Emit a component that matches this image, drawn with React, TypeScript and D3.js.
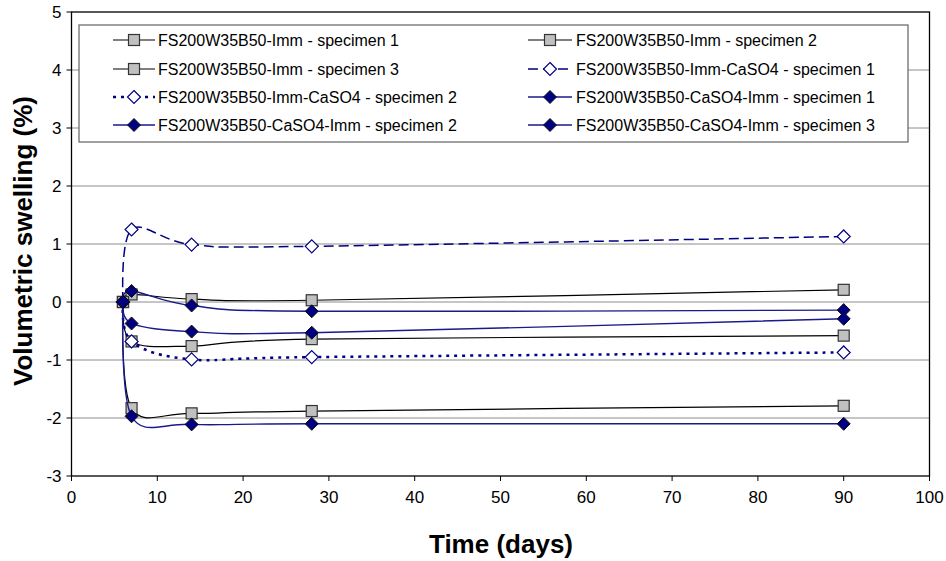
import React from "react";
import * as d3 from "d3";

const days = [6, 7, 14, 28, 90];
const seriesNames = [
  "FS200W35B50-Imm - specimen 1",
  "FS200W35B50-Imm - specimen 2",
  "FS200W35B50-Imm - specimen 3",
  "FS200W35B50-Imm-CaSO4 - specimen 1",
  "FS200W35B50-Imm-CaSO4 - specimen 2",
  "FS200W35B50-CaSO4-Imm - specimen 1",
  "FS200W35B50-CaSO4-Imm - specimen 2",
  "FS200W35B50-CaSO4-Imm - specimen 3",
];
const immSpec1 = [0, 0.13, 0.05, 0.03, 0.21];
const immSpec2 = [0, -0.68, -0.76, -0.64, -0.58];
const immSpec3 = [0, -1.83, -1.92, -1.88, -1.79];
const immCaSpec1 = [0, 1.25, 0.99, 0.96, 1.13];
const immCaSpec2 = [0, -0.68, -0.99, -0.95, -0.87];
const caImmSpec1 = [0, 0.19, -0.06, -0.16, -0.14];
const caImmSpec2 = [0, -0.37, -0.51, -0.53, -0.29];
const caImmSpec3 = [0, -1.97, -2.11, -2.1, -2.1];
const seriesValues = [immSpec1, immSpec2, immSpec3, immCaSpec1, immCaSpec2, caImmSpec1, caImmSpec2, caImmSpec3];
// style kind per series: 0 = gray square, 1 = dashed open diamond, 2 = dotted open diamond, 3 = navy diamond
const seriesKind = [0, 0, 0, 1, 2, 3, 3, 3];
const xTicks = [0, 10, 20, 30, 40, 50, 60, 70, 80, 90, 100];
const yTicks = [-3, -2, -1, 0, 1, 2, 3, 4, 5];
const legendOrder = [0, 1, 2, 3, 4, 5, 6, 7];

const W = 946, H = 561;
const L = 71.5, R = 929.5, T = 12, B = 476;
const NAVY = "#000080";
const FONT = "'Liberation Sans', Arial, sans-serif";

function Marker({ kind, x, y }: { kind: number; x: number; y: number }) {
  if (kind === 0) {
    return <rect x={x - 5.5} y={y - 5.5} width={11} height={11} fill="#c0c0c0" stroke="#333" strokeWidth={1.2} />;
  }
  const r = 6.5;
  const d = `M${x},${y - r}L${x + r},${y}L${x},${y + r}L${x - r},${y}Z`;
  if (kind === 3) return <path d={d} fill={NAVY} stroke="#111" strokeWidth={1} />;
  return <path d={d} fill="#fff" stroke={NAVY} strokeWidth={1.2} />;
}

function lineStyle(kind: number) {
  if (kind === 0) return { stroke: "#000", strokeWidth: 1.2, dash: undefined as string | undefined };
  if (kind === 1) return { stroke: NAVY, strokeWidth: 1.5, dash: "10,5" };
  if (kind === 2) return { stroke: NAVY, strokeWidth: 2.5, dash: "3,5" };
  return { stroke: "#1a1a8a", strokeWidth: 1.4, dash: undefined };
}

export default function App() {
  const x = d3.scaleLinear().domain([0, 100]).range([L, R]);
  const y = d3.scaleLinear().domain([-3, 5]).range([B, T]);
  const line = d3
    .line<[number, number]>()
    .x((d) => x(d[0]))
    .y((d) => y(d[1]))
    .curve(d3.curveCardinal.tension(0));

  const legendRows = [40, 69, 97, 125];
  const legendCols = [
    { l1: 113, l2: 155, m: 134, t: 158 },
    { l1: 528, l2: 572, m: 550, t: 576 },
  ];

  return (
    <svg width={W} height={H} style={{ display: "block", position: "absolute", left: 0, top: 0 }} fontFamily={FONT}>
      <rect x={0} y={0} width={W} height={H} fill="#fff" />
      {yTicks.filter((t) => t > -3 && t < 5).map((t) => (
        <line key={"g" + t} x1={L} x2={R} y1={y(t)} y2={y(t)} stroke="#8c8c8c" strokeWidth={1} />
      ))}
      <rect x={L} y={T} width={R - L} height={B - T} fill="none" stroke="#000" strokeWidth={1.3} />
      {yTicks.map((t) => (
        <g key={"y" + t}>
          <line x1={L - 5} x2={L} y1={y(t)} y2={y(t)} stroke="#000" strokeWidth={1} />
          <text x={L - 10} y={y(t)} dy="0.36em" textAnchor="end" fontSize={17}>{t}</text>
        </g>
      ))}
      {xTicks.map((t) => (
        <g key={"x" + t}>
          <line x1={x(t)} x2={x(t)} y1={B} y2={B + 5} stroke="#000" strokeWidth={1} />
          <text x={x(t)} y={B + 27} textAnchor="middle" fontSize={17}>{t}</text>
        </g>
      ))}
      <text x={501} y={553} textAnchor="middle" fontSize={26} fontWeight="bold">Time (days)</text>
      <text transform={`translate(32,241) rotate(-90)`} textAnchor="middle" fontSize={26} fontWeight="bold">Volumetric swelling (%)</text>
      <rect x={79} y={25} width={829} height={117} fill="#fff" stroke="#6e6e6e" strokeWidth={1.3} />
      {legendOrder.map((si, i) => {
        const row = legendRows[Math.floor(i / 2)];
        const c = legendCols[i % 2];
        const k = seriesKind[si];
        const ls = lineStyle(k);
        return (
          <g key={"lg" + si}>
            <line x1={c.l1} x2={c.l2} y1={row} y2={row} stroke={ls.stroke} strokeWidth={ls.strokeWidth} strokeDasharray={ls.dash} />
            <Marker kind={k} x={c.m} y={row} />
            <text x={c.t} y={row} dy="0.36em" fontSize={16}>{seriesNames[si]}</text>
          </g>
        );
      })}
      {seriesValues.map((vals, si) => {
        const k = seriesKind[si];
        const ls = lineStyle(k);
        const pts = days.map((d, i) => [d, vals[i]] as [number, number]);
        return (
          <g key={"s" + si}>
            <path d={line(pts) || ""} fill="none" stroke={ls.stroke} strokeWidth={ls.strokeWidth} strokeDasharray={ls.dash} />
            {pts.map((p, i) => (
              <Marker key={i} kind={k} x={x(p[0])} y={y(p[1])} />
            ))}
          </g>
        );
      })}
    </svg>
  );
}
